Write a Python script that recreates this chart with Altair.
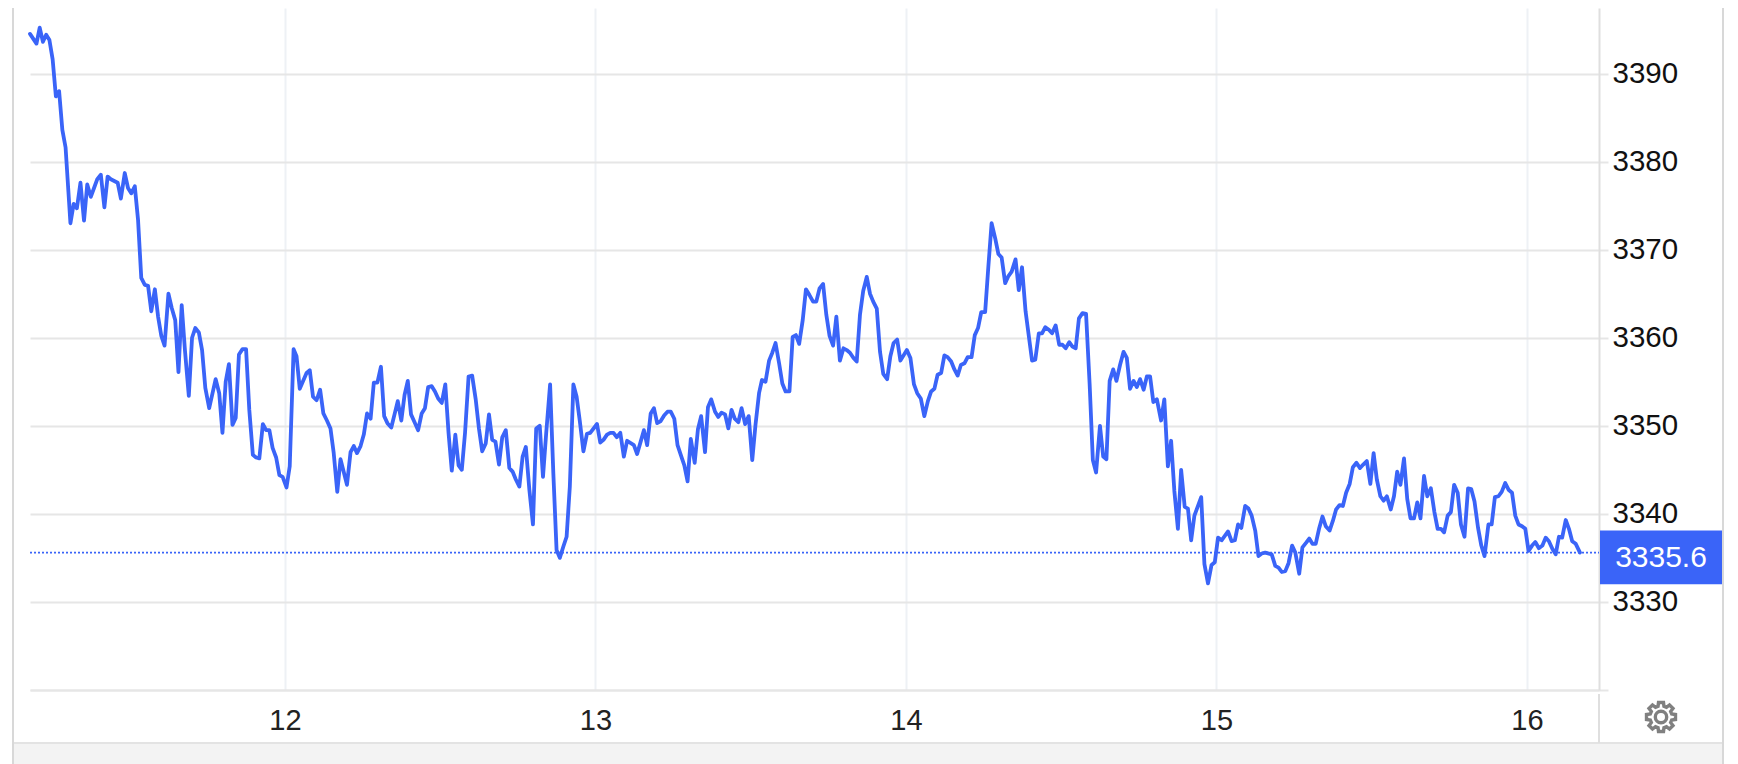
import math
import altair as alt
import pandas as pd

# 15-minute bar number (counted from the left edge of the chart) and price at each turning point
bars = [0,2,3,4,5,6,7,8,9,10,11,12.5,13.5,14.5,15.6,16.7,17.7,18.8,19.8,20.8,21.9,23,24,25,27.1,28.1,29.3,30.3,31.3,32.4,33.4,34.4,35.5,36.5,37.5,38.6,39.6,40.6,41.6,42.8,43.8,44.9,45.9,46.9,47.9,49.1,50.1,51.1,52.2,53.2,
54.2,55.4,57.4,58.5,59.5,60.5,61.5,62.6,63.6,64.6,65.7,66.8,67.8,68.9,69.9,70.9,72,73,74,75,76.1,77.1,78.1,79.3,80.3,81.5,82.4,83.4,85.5,86.5,87.5,88.6,89.7,90.7,91.8,92.9,93.9,95,96,98,99.1,100.1,101.1,102.2,103.2,104.2,105.3,106.3,107.4,108.5,109.5,110.5,111.7,112.7,113.7,114.8,115.8,116.8,117.8,118.9,120,121.1,122.1,123.1,124.2,125.2,126.2,127.3,128.4,129.4,130.4,131.5,132.5,133.5,134.5,135.6,136.7,137.8,138.8,139.8,140.9,141.9,142.9,143.9,145,146,147.1,148.2,149.2,150.2,151.3,152.3,153.3,154.4,155.5,156.5,157.6,158.6,159.6,160.8,161.8,162.8,163.8,164.9,165.9,166.9,168,169,170,
171.1,172.2,173.2,175.3,176.3,177.3,178.4,179.4,180.4,181.4,182.5,183.6,184.6,186.7,187.7,188.8,189.8,190.8,191.9,192.9,193.9,194.9,196.1,197.1,198.1,199.2,200.2,201.2,202.3,203.3,204.3,205.5,206.5,207.5,208.7,209.6,210.6,211.8,212.8,213.8,214.9,215.9,216.9,217.9,219,220,221.1,222.2,223.3,224.3,225.4,226.3,227.4,228.5,229.5,230.5,231.6,232.6,233.6,234.8,235.8,236.8,237.8,238.9,239.9,240.9,242.1,243.1,244.1,245.2,246.2,247.2,248.3,249.3,250.4,251.5,252.5,253.5,254.6,255.6,256.6,257.6,258.7,259.7,260.7,261.8,262.8,263.8,265,266,267,268.1,269.1,271.1,272.2,273.3,274.3,275.4,276.5,277.6,278.6,279.6,280.6,281.7,282.7,283.7,284.8,285.8,286.8,287.8,288.9,289.9,291.1,292.1,293.1,294.1,295.3,296.3,297.3,298.4,299.4,300.4,301.5,302.5,303.5,304.7,305.7,306.7,307.8,308.8,309.8,310.8,311.9,312.9,313.9,315,316,317.1,318.2,319.2,320.2,321.3,322.3,323.3,324.3,325.4,326.5,327.6,328.6,329.6,330.8,331.8,332.8,333.8,334.9,335.9,337,338.1,339.1,340.1,341.2,342.2,343.2,344.3,345.3,346.3,347.3,348.4,
349.7,350.7,351.8,352.8,353.8,354.9,355.9,357,358,359,360,362.1,363.1,364.2,365.3,366.3,367.3,368.4,370.4,371.5,372.5,373.5,374.5,375.7,376.7,377.7,378.8,379.8,380.8,381.9,383.9,385,386,387,388.1,389.1,390.2,391.2,392.4,393.4,394.5,395.5,396.5,397.5,398.6,399.6,400.6,401.8,402.8,403.8,404.9,405.9,406.9,408,409,410.1,411.2,412.2,413.3,414.4,415.4,416.4,417.5,418.5,419.5,420.7,421.7,422.7,423.7,424.8,425.8,426.8,427.9,428.9,429.9,431,432,433.1,434.2,435.2,436.2,437.2,438.3,439.3,440.3,441.4,442.4,443.5,444.6,445.6,446.6,447.7,448.7,449.7,450.9,451.9,452.9,454,455,456.1,457.2,458.2,459.2,460.2,461.3,462.3,463.3,464.4,465.4,466.5,467.6,468.6,469.6,470.7,471.7,472.7,473.7,474.8,475.8,476.8,477.9,479.2]
prices = [3394.5,3393.4,3395.2,3393.6,3394.4,3393.8,3391.6,3387.4,3388,3383.6,3381.6,3373,3375.2,3374.7,3377.6,3373.3,3377.4,3376,3377,3378,3378.5,3374.8,3378.3,3378,3377.6,3375.8,3378.7,3377,3376.4,3377.2,3373.4,3366.8,3366,3365.9,3363,3365.5,3362.4,3360.2,3359.1,3365,3363.4,3362,3356.1,3363.7,3358.6,3353.4,3360,3361.1,3360.6,3358.6,
3354.3,3352,3355.3,3353.7,3349.2,3355,3357,3350.1,3350.9,3358.1,3358.7,3358.7,3351.8,3346.7,3346.4,3346.3,3350.2,3349.5,3349.5,3347.5,3346.4,3344.4,3344.2,3343,3345.4,3358.7,3357.9,3354.2,3356,3356.3,3353.3,3352.9,3354.1,3351.4,3350.6,3349.7,3346.9,3342.5,3346.2,3343.3,3347,3347.7,3346.9,3347.7,3349,3351.4,3350.8,3354.9,3354.9,3356.7,3351.1,3350.3,3349.8,3351.3,3352.8,3350.6,3353.5,3355.1,3351.3,3350.4,3349.5,3351.4,3352,3354.4,3354.5,3353.9,3353.1,3352.6,3354.7,3349.2,3344.9,3349,3345.5,3345,3349.2,3355.6,3355.7,3353,3349.7,3347.1,3348,3351.3,3348.4,3348.2,3345.6,3348.7,3349.5,3345.2,3344.8,3343.9,3343.1,3346.5,3347.6,3342.7,3338.8,3349.7,3350,3344.2,3349.2,3354.7,3344.6,3335.9,3335,3336.3,3337.4,3343.1,3354.7,3353.3,3350.5,
3347.1,3349.1,3349.2,3350.2,3348.1,3348.4,3349,3349.2,3349.2,3348.7,3349.2,3346.5,3348.3,3347.8,3346.8,3348.2,3349.5,3347.8,3351.4,3352,3350.3,3350.5,3351.2,3351.6,3351.6,3350.8,3347.8,3346.7,3345.5,3343.7,3348.5,3345.8,3349.6,3351.1,3347,3352.1,3353,3351.6,3351,3351.5,3351.3,3349.7,3351.8,3350.8,3350.4,3352,3350.2,3351.1,3346.1,3350.1,3353.7,3355.2,3355,3357.4,3358.3,3359.4,3357.1,3354.8,3353.9,3353.9,3360.1,3360.3,3359.3,3362,3365.5,3364.9,3364.1,3364.1,3365.6,3366.1,3362.6,3360.2,3359.1,3362.4,3357.4,3358.8,3358.6,3358.3,3357.7,3357.3,3362.6,3365.3,3366.9,3365,3364.1,3363.3,3358.4,3355.9,3355.3,3357.9,3359.4,3359.8,3357.4,3358.6,3357.7,3354.7,3353.7,3353.1,3351.1,3352.8,3353.9,3354.2,3355.8,3356,3358,3357.8,3357.3,3356.4,3355.7,3356.9,3357.1,3357.8,3357.8,3360.3,3361.1,3362.9,3362.9,3368.1,3373,3371.3,3369.5,3369.1,3366.2,3367,3367.5,3368.9,3365.4,3368,3363,3360.2,3357.4,3357.5,3360.5,3360.5,3361.2,3360.9,3360.5,3361.4,3359.2,3359.2,3358.8,3359.5,3359,3358.8,3362.2,3362.8,3362.7,3354.8,3346.1,3344.7,3350,3346.5,3346.2,3355.1,3356.4,3355.1,3356.9,3358.4,3357.7,3354.2,3355.1,3354.4,3355.3,3354.1,3355.6,3355.6,3352.7,3353,
3350.6,3353,3345.4,3348.3,3342.6,3338.3,3345,3340.8,3340.6,3337,3339.8,3341.9,3334.3,3332.1,3334.2,3334.5,3337.3,3337,3338,3336.9,3337,3338.8,3338.4,3340.9,3340.6,3339.8,3338.1,3335.2,3335.5,3335.6,3335.4,3334.1,3333.9,3333.4,3333.5,3334.4,3336.4,3335.6,3333.2,3336.2,3336.7,3337.2,3336.6,3336.6,3338.4,3339.7,3338.6,3338.1,3339.2,3340.5,3341,3340.9,3342.4,3343.4,3345.3,3345.8,3345.2,3345.6,3346,3343.4,3346.9,3343.9,3342,3341.5,3342,3340.5,3342,3344.8,3343.3,3346.3,3341.7,3339.5,3339.5,3341.3,3339.5,3344.3,3342,3342.9,3340.2,3338.3,3338.3,3337.9,3339.8,3340.2,3343.3,3342.4,3338.8,3337.4,3342.9,3342.8,3341.4,3338.4,3336.4,3335.2,3338.8,3338.8,3341.9,3342,3342.5,3343.5,3342.7,3342.4,3339.8,3338.8,3338.6,3338.3,3335.8,3336.4,3336.8,3336.1,3336.4,3337.3,3336.9,3336,3335.4,3337.4,3337.3,3339.3,3338.3,3336.9,3336.6,3335.6]
first_day = 11.179
bars_per_day = 96
day_ticks = [12, 13, 14, 15, 16]
price_ticks = [3320, 3330, 3340, 3350, 3360, 3370, 3380, 3390]
last_price = 3335.6

BLUE = "#3a64f8"
GRID = "#e6e6e6"
FONT = "Liberation Sans"
PW, PH = 1569, 682

df = pd.DataFrame({"day": [first_day + b / bars_per_day for b in bars], "price": prices})
xs = alt.Scale(domain=[first_day, 16.232], nice=False, zero=False)
ys = alt.Scale(domain=[3320, 3397.44], nice=False, zero=False)

line = alt.Chart(df).mark_line(color=BLUE, strokeWidth=3.8, strokeJoin="round", strokeCap="round").encode(
    x=alt.X("day:Q", scale=xs, title=None, axis=alt.Axis(
        values=day_ticks, format="d", grid=True, gridColor="#eef1f5", gridWidth=2, ticks=False,
        domainColor=GRID, domainWidth=2, labelFontSize=29, labelFont=FONT, labelColor="#222222",
        labelPadding=16, labelFlush=False, zindex=0)),
    y=alt.Y("price:Q", scale=ys, title=None, axis=alt.Axis(
        orient="right", values=price_ticks, format="d", grid=True, gridColor=GRID, gridWidth=2,
        tickColor=GRID, tickWidth=2, tickSize=9, domainColor="#dfdfdf", domainWidth=2,
        labelFontSize=29.5, labelFont=FONT, labelColor="#111111", labelPadding=4, labelFlush=False,
        labelExpr="datum.value == 3320 ? '' : datum.label", zindex=0)),
)

last_df = pd.DataFrame({"price": [last_price]})
dotted = alt.Chart(last_df).mark_rule(color=BLUE, strokeWidth=1.6, strokeDash=[2, 2]).encode(
    x=alt.value(0), x2=alt.value(PW), y=alt.Y("price:Q", scale=ys, title=None))

badge_df = pd.DataFrame({"top": [3338.1], "bottom": [3332.0], "mid": [3335.0], "label": [f"{last_price}"]})
badge = alt.Chart(badge_df).mark_rect(color=BLUE).encode(
    x=alt.value(1570), x2=alt.value(1692),
    y=alt.Y("top:Q", scale=ys, title=None), y2="bottom:Q")
badge_text = alt.Chart(badge_df).mark_text(color="white", fontSize=30, font=FONT, align="center", baseline="middle").encode(
    x=alt.value(1631), y=alt.Y("mid:Q", scale=ys, title=None), text="label:N")

def rule(x1, x2, y1, y2, color, width=2):
    return alt.Chart(pd.DataFrame({"a": [0]})).mark_rule(color=color, strokeWidth=width).encode(
        x=alt.value(x1), x2=alt.value(x2), y=alt.value(y1), y2=alt.value(y2))

strip = alt.Chart(pd.DataFrame({"a": [0]})).mark_rect(color="#f3f3f3").encode(
    x=alt.value(-17), x2=alt.value(1693), y=alt.value(735), y2=alt.value(756))

left_border = rule(-17, -17, 0, 756, "#d8d8d8")
right_border = rule(1693, 1693, 0, 756, "#d8d8d8")
strip_top = rule(-17, 1693, 735, 735, "#e3e3e3")
axis_tail = rule(PW, PW, 686, 735, "#dfdfdf")

teeth = 8
pts = []
for t in range(teeth):
    c = 2 * math.pi * t / teeth
    for off, r in ((-0.27, 0.74), (-0.17, 0.98), (0.17, 0.98), (0.27, 0.74)):
        pts.append((r * math.sin(c + off), -r * math.cos(c + off)))
gear_path = "M" + "L".join(f"{a:.3f},{b:.3f}" for a, b in pts) + "Z"
gear = alt.Chart(pd.DataFrame({"a": [0]})).mark_point(
    shape=gear_path, filled=False, stroke="#808080", strokeWidth=3.4, size=900, opacity=1
).encode(x=alt.value(1631), y=alt.value(709))
gear_hole = alt.Chart(pd.DataFrame({"a": [0]})).mark_point(
    shape="circle", filled=False, stroke="#808080", strokeWidth=3.4, size=130, opacity=1
).encode(x=alt.value(1631), y=alt.value(709))

chart = alt.layer(strip, strip_top, left_border, right_border, axis_tail, line, dotted, badge, badge_text, gear, gear_hole).properties(
    width=PW, height=PH,
    autosize=alt.AutoSizeParams(type="none"),
    padding={"left": 22, "right": 131, "top": 0, "bottom": 74},
    background="white",
).configure_view(stroke=None)

chart.save("out.html", embed_options={"renderer": "svg", "actions": False})
